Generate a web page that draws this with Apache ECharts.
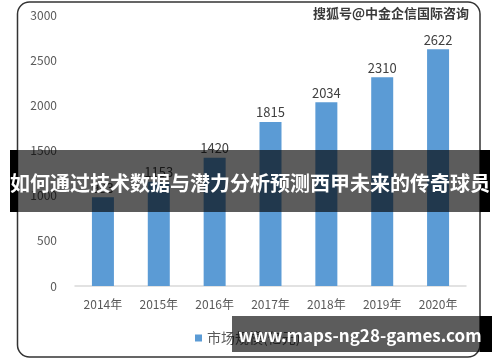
<!DOCTYPE html>
<html><head><meta charset="utf-8">
<script src="https://cdn.jsdelivr.net/npm/echarts@6/dist/echarts.min.js"></script>
<style>html,body{margin:0;padding:0;background:#fff}#c{width:500px;height:362px}</style>
</head><body><div id="c"></div>
<script>
const categories = ['2014年','2015年','2016年','2017年','2018年','2019年','2020年'];
const values = [983, 1153, 1420, 1815, 2034, 2310, 2622];
const seriesName = '市场规模(亿元)';
const titleText = '如何通过技术数据与潜力分析预测西甲未来的传奇球员';
const watermark = '搜狐号@中金企信国际咨询';
const siteText = 'www.maps-ng28-games.com';
const FF = '"Noto Sans CJK SC","Noto Sans",sans-serif';

const chart = echarts.init(document.getElementById('c'), null, {renderer:'canvas'});
chart.setOption({
  animation:false,
  textStyle:{fontFamily:FF},
  grid:{left:75, right:34, top:15, bottom:76},
  legend:{
    data:[seriesName], left:190, top:326, itemWidth:7, itemHeight:7, itemGap:4,
    icon:'rect', textStyle:{color:'#595959', fontSize:14, fontFamily:FF}
  },
  xAxis:{
    type:'category', data:categories,
    axisLine:{lineStyle:{color:'#d9d9d9', width:1.5}},
    axisTick:{show:false},
    axisLabel:{color:'#595959', fontSize:12, margin:12, fontFamily:FF}
  },
  yAxis:{
    type:'value', min:0, max:3000, interval:500,
    axisLine:{show:false}, axisTick:{show:false}, splitLine:{show:false},
    axisLabel:{color:'#595959', fontSize:12, margin:18, fontFamily:FF, formatter:function(v){return String(v);}}
  },
  series:[{
    name:seriesName, type:'bar', data:values, barWidth:22,
    itemStyle:{color:'#5b9bd5'},
    label:{show:true, position:'top', color:'#404040', fontSize:13, distance:3, fontFamily:FF}
  }],
  graphic:[
    {type:'rect', z:100, shape:{x:17.5, y:2, width:462.5, height:355, r:12}, style:{fill:'none', stroke:'#333', lineWidth:1.5}},
    {type:'text', z:101, right:30, top:6, style:{text:watermark, fill:'#3a3a3a', font:'bold 13px '+FF, stroke:'#fff', lineWidth:2}},
    {type:'rect', z:110, shape:{x:10, y:150, width:8, height:62}, style:{fill:'#000'}},
    {type:'rect', z:110, shape:{x:480, y:150, width:10, height:62}, style:{fill:'#000'}},
    {type:'rect', z:111, shape:{x:18, y:150, width:462, height:62}, style:{fill:'rgba(0,0,0,0.64)'}},
    {type:'text', z:112, x:250, y:183, style:{text:titleText, fill:'#fff', font:'bold 20px '+FF, align:'center', verticalAlign:'middle'}},
    {type:'rect', z:110, shape:{x:480, y:316, width:12, height:36}, style:{fill:'#000'}},
    {type:'rect', z:111, shape:{x:232, y:316, width:248, height:36}, style:{fill:'rgba(0,0,0,0.64)'}},
    {type:'text', z:112, x:360, y:336, style:{text:siteText, fill:'#fff', font:'bold 17px '+FF, align:'center', verticalAlign:'middle'}}
  ]
});
</script></body></html>
